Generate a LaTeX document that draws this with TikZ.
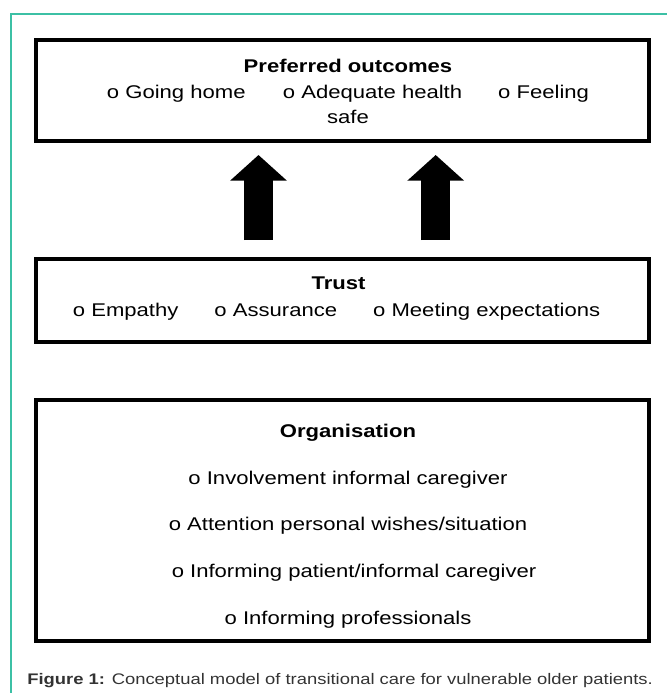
\documentclass[tikz,border=0pt]{standalone}
\usepackage{fontspec}
\setmainfont{Liberation Sans}[FakeStretch=1.2]
\usetikzlibrary{arrows.meta}
\definecolor{frameteal}{RGB}{60,192,165}

\begin{document}
\begin{tikzpicture}[x=0.75pt, y=-0.75pt,
    box/.style={draw, line width=3pt, minimum width=460.1pt, inner sep=0pt},
    txt/.style={anchor=base, font=\fontsize{13.8pt}{16pt}\selectfont},
    head/.style={anchor=base, font=\fontsize{13.8pt}{16pt}\selectfont\bfseries},
    blockarrow/.style={line width=21.5pt, -{Triangle[width=41.6pt, length=19.3pt]}}]
    \useasboundingbox (0,0) rectangle (667,693);

    % Frame of the figure
    \draw[frameteal, line width=1.4pt] (11.3,693) -- (11.3,13.7) -- (667,13.7);

    % Preferred outcomes
    \node[box, minimum height=75.75pt] (outcomes) at (342.75,90.5) {};
    \node[head] (outtitle) at (348,72.5) {Preferred outcomes};
    \node[txt] (outitems) at (348,98.5) {o Going home\hspace{28pt}o Adequate health\hspace{27pt}o Feeling};
    \node[txt] (outsafe) at (348,123.5) {safe};

    % Arrows from trust to outcomes
    \coordinate (arrowAfrom) at (258.5,240);
    \coordinate (arrowAto) at (258.5,155);
    \coordinate (arrowBfrom) at (435.7,240);
    \coordinate (arrowBto) at (435.7,155);
    \draw[blockarrow] (arrowAfrom) -- (arrowAto);
    \draw[blockarrow] (arrowBfrom) -- (arrowBto);

    % Trust
    \node[box, minimum height=61.9pt] (trust) at (342.75,300.75) {};
    \node[head] (trusttitle) at (338.5,289.3) {Trust};
    \node[txt] (trustitems) at (336.6,316) {o Empathy\hspace{27pt}o Assurance\hspace{27pt}o Meeting expectations};

    % Organisation
    \node[box, minimum height=181.1pt] (organisation) at (342.75,520.75) {};
    \node[head] (orgtitle) at (348,437.3) {Organisation};
    \node[txt] (orgitemA) at (348,484) {o Involvement informal caregiver};
    \node[txt] (orgitemB) at (348,530.3) {o Attention personal wishes/situation};
    \node[txt] (orgitemC) at (354,577.3) {o Informing patient/informal caregiver};
    \node[txt] (orgitemD) at (348,624) {o Informing professionals};

    % Caption
    \node[anchor=base west, inner sep=0pt, text=black!80, font=\fontsize{11.5pt}{13pt}\selectfont] (caption) at (27,684)
        {\textbf{Figure 1:} Conceptual model of transitional care for vulnerable older patients.};
\end{tikzpicture}
\end{document}
